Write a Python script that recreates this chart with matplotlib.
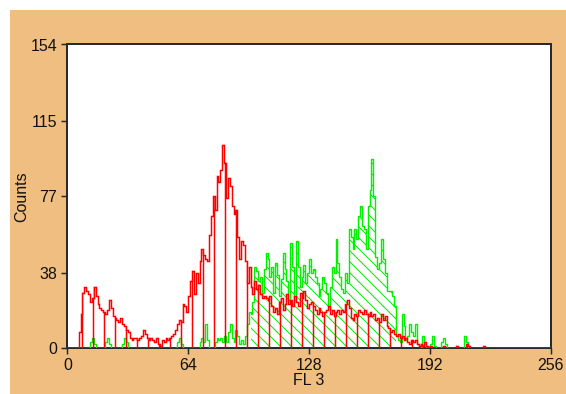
import numpy as np
import matplotlib
matplotlib.use("Agg")
import matplotlib.pyplot as plt
from matplotlib.patches import Rectangle

# ---------------- data ----------------
channels = np.arange(257)  # bin edges 0..256

red_counts = {
    6: 8, 7: 17, 8: 28, 9: 31, 10: 29, 11: 27, 12: 23, 13: 25, 14: 31, 15: 26,
    16: 22, 17: 20, 18: 19, 19: 18, 20: 17, 21: 19, 22: 24, 23: 20, 24: 16, 25: 15,
    26: 14, 27: 13, 28: 15, 29: 12, 30: 11, 31: 9, 32: 8, 33: 5, 34: 4, 35: 5,
    36: 5, 37: 4, 38: 5, 39: 6, 40: 9, 41: 7, 42: 5, 43: 4, 44: 5, 45: 4,
    46: 3, 47: 5, 48: 2, 49: 1, 50: 4, 51: 3, 52: 5, 53: 4, 54: 5, 55: 6,
    56: 7, 57: 9, 58: 12, 59: 14, 60: 13, 61: 22, 62: 21, 63: 18, 64: 26, 65: 34,
    66: 39, 67: 27, 68: 38, 69: 33, 70: 44, 71: 50, 72: 47, 73: 45, 74: 44, 75: 57,
    76: 67, 77: 77, 78: 70, 79: 87, 80: 84, 81: 90, 82: 103, 83: 94, 84: 76, 85: 86,
    86: 82, 87: 72, 88: 68, 89: 70, 90: 56, 91: 45, 92: 54, 93: 52, 94: 44, 95: 33,
    96: 41, 97: 31, 98: 27, 99: 34, 100: 30, 101: 32, 102: 27, 103: 25, 104: 26, 105: 25,
    106: 24, 107: 26, 108: 21, 109: 18, 110: 20, 111: 17, 112: 23, 113: 25, 114: 19, 115: 22,
    116: 27, 117: 22, 118: 24, 119: 21, 120: 26, 121: 23, 122: 21, 123: 28, 124: 25, 125: 29,
    126: 24, 127: 20, 128: 22, 129: 23, 130: 21, 131: 19, 132: 17, 133: 20, 134: 18, 135: 16,
    136: 18, 137: 19, 138: 21, 139: 17, 140: 19, 141: 16, 142: 18, 143: 19, 144: 17, 145: 19,
    146: 18, 147: 22, 148: 24, 149: 20, 150: 15, 151: 14, 152: 17, 153: 16, 154: 19, 155: 18,
    156: 17, 157: 19, 158: 17, 159: 16, 160: 18, 161: 16, 162: 17, 163: 14, 164: 15, 165: 13,
    166: 17, 167: 14, 168: 16, 169: 11, 170: 10, 171: 8, 172: 9, 173: 7, 174: 6, 175: 7,
    176: 5, 177: 6, 178: 4, 179: 5, 180: 3, 181: 2, 182: 4, 183: 3, 184: 4, 185: 2,
    186: 1, 187: 2, 188: 1, 189: 3, 190: 1, 192: 1, 199: 1, 206: 1, 211: 2, 212: 1, 220: 1,
}

green_counts = {
    12: 3, 13: 5, 14: 2, 20: 3, 21: 5, 22: 2, 29: 2, 30: 5, 31: 3,
    58: 3, 59: 5, 60: 2, 70: 3, 71: 5, 72: 3, 73: 12, 74: 4,
    78: 3, 79: 5, 80: 4, 81: 5, 82: 3, 83: 6, 84: 3, 85: 8, 86: 12, 87: 5,
    88: 3, 89: 9, 90: 6, 91: 2, 92: 4, 93: 2, 94: 6,
    95: 12, 96: 18, 97: 17, 98: 23, 99: 41, 100: 39, 101: 34, 102: 36, 103: 28, 104: 40,
    105: 48, 106: 45, 107: 36, 108: 41, 109: 28, 110: 43, 111: 37, 112: 26, 113: 35, 114: 48,
    115: 40, 116: 34, 117: 24, 118: 53, 119: 41, 120: 24, 121: 54, 122: 41, 123: 31, 124: 36,
    125: 42, 126: 33, 127: 38, 128: 45, 129: 38, 130: 40, 131: 36, 132: 33, 133: 26, 134: 30,
    135: 36, 136: 33, 137: 28, 138: 21, 139: 31, 140: 41, 141: 38, 142: 55, 143: 43, 144: 36,
    145: 30, 146: 28, 147: 38, 148: 33, 149: 60, 150: 56, 151: 50, 152: 60, 153: 55, 154: 67,
    155: 72, 156: 62, 157: 60, 158: 50, 159: 72, 160: 80, 161: 96, 162: 77, 163: 46, 164: 40,
    165: 43, 166: 55, 167: 45, 168: 38, 169: 29, 170: 29, 171: 29, 172: 26, 173: 21, 174: 6,
    175: 4, 176: 3, 177: 17, 178: 11, 179: 4, 180: 6, 181: 12, 182: 8, 183: 6, 184: 12,
    185: 2, 186: 1, 188: 6, 189: 2, 192: 2, 193: 6, 194: 1, 198: 3, 199: 5, 200: 2,
    210: 6, 211: 3,
}

green_gate = (97, 174)          # hatched marker region of the green histogram
x_ticks = [0, 64, 128, 192, 256]
y_ticks = [0, 38, 77, 115, 154]
x_label = "FL 3"
y_label = "Counts"

red = np.zeros(256)
for k, v in red_counts.items():
    red[k] = v
green = np.zeros(256)
for k, v in green_counts.items():
    green[k] = v

# ---------------- style ----------------
DPI = 66.0
PT = 72.0 / DPI  # points per pixel
W, H = 566, 394
ORANGE = "#F0BE80"
RED = "#FF0000"
GREEN = "#00F000"
SPINE = "#2A2A2A"
FS = 16 * PT

plt.rcParams["font.family"] = ["Liberation Sans", "DejaVu Sans"]
plt.rcParams["font.size"] = FS

fig = plt.figure(figsize=((W + 0.2) / DPI, (H + 0.2) / DPI), dpi=DPI, facecolor="white")
fig.patches.append(Rectangle((10 / W, 0), 1, 1 - 10 / H, transform=fig.transFigure,
                             facecolor=ORANGE, edgecolor="none", zorder=-10))

left, right, top, bottom = 67.3, 550.7, 44.5, 347.7
ax = fig.add_axes([left / W, 1 - bottom / H, (right - left) / W, (bottom - top) / H])
ax.set_facecolor("white")

# green histogram: hatch inside gate, outline
gmask = np.zeros(257, dtype=bool)
gmask[green_gate[0]:green_gate[1] + 1] = True
gext = np.append(green, green[-1])
with plt.rc_context({"hatch.linewidth": 1.0 * PT}):
    ax.fill_between(channels, 0, gext, where=gmask, step="post", facecolor="none",
                    edgecolor=GREEN, linewidth=0, hatch="\\\\", zorder=2)
ax.stairs(green, channels, color=GREEN, linewidth=1.4 * PT, zorder=3)

# red histogram: vertical hatch, outline
rext = np.append(red, red[-1])
with plt.rc_context({"hatch.linewidth": 1.5 * PT}):
    ax.fill_between(channels, 0, rext, step="post", facecolor="none",
                    edgecolor=RED, linewidth=0, hatch="|", zorder=4)
ax.stairs(red, channels, color=RED, linewidth=1.5 * PT, zorder=5)

ax.set_xlim(0, 256)
ax.set_ylim(0, 154)
ax.set_xticks(x_ticks)
ax.set_yticks(y_ticks)
ax.tick_params(direction="out", length=6.5 * PT, width=1.5 * PT, color=SPINE,
               labelsize=FS, labelcolor="#111111")
ax.tick_params(axis="y", pad=3.5 * PT)
ax.tick_params(axis="x", pad=4.0 * PT)
for s in ax.spines.values():
    s.set_color(SPINE)
    s.set_linewidth(2 * PT)

ax.set_xlabel(x_label, fontsize=FS, va="center", ha="center", color="#111111")
ax.xaxis.set_label_coords((308.5 - left) / (right - left), (bottom - 380) / (bottom - top))
ax.set_ylabel(y_label, fontsize=FS, va="center", ha="center", color="#111111")
ax.yaxis.set_label_coords((22 - left) / (right - left), 0.5)

fig.savefig("out.png", dpi=DPI, facecolor="white")
